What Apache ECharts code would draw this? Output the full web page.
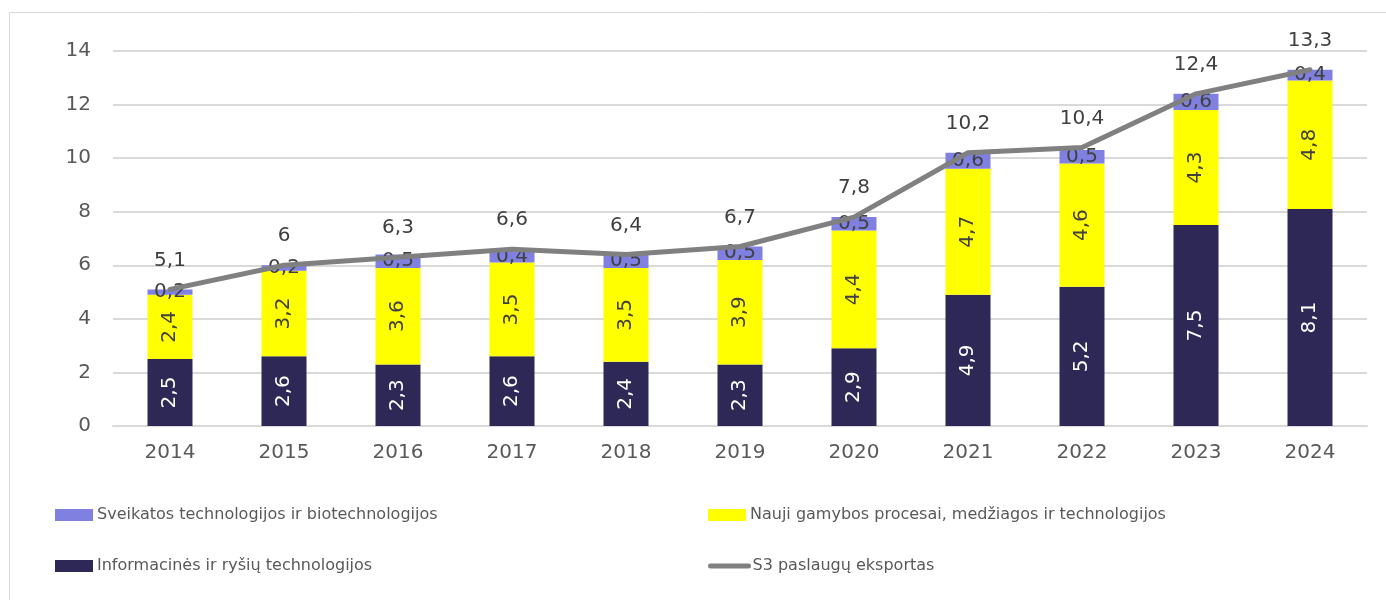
<!DOCTYPE html>
<html>
<head>
<meta charset="utf-8">
<script src="https://cdn.jsdelivr.net/npm/echarts@6/dist/echarts.min.js"></script>
<style>
  html, body { margin: 0; padding: 0; background: #fff; }
  #main { width: 1386px; height: 600px; }
</style>
</head>
<body>
<div id="main"></div>
<script>
const years = ['2014', '2015', '2016', '2017', '2018', '2019', '2020', '2021', '2022', '2023', '2024'];
const ictValues = [2.5, 2.6, 2.3, 2.6, 2.4, 2.3, 2.9, 4.9, 5.2, 7.5, 8.1];
const manufacturingValues = [2.4, 3.2, 3.6, 3.5, 3.5, 3.9, 4.4, 4.7, 4.6, 4.3, 4.8];
const healthValues = [0.2, 0.2, 0.5, 0.4, 0.5, 0.5, 0.5, 0.6, 0.5, 0.6, 0.4];
const exportValues = [5.1, 6, 6.3, 6.6, 6.4, 6.7, 7.8, 10.2, 10.4, 12.4, 13.3];

const NAME_HEALTH = 'Sveikatos technologijos ir biotechnologijos';
const NAME_MANUF = 'Nauji gamybos procesai, medžiagos ir technologijos';
const NAME_ICT = 'Informacinės ir ryšių technologijos';
const NAME_EXPORT = 'S3 paslaugų eksportas';

const FONT = 'DejaVu Sans';
const fmt = p => String(p.value).replace('.', ',');

function legendAt(name, left, top, extra) {
    return Object.assign({
        data: [name],
        left: left,
        top: top,
        padding: 0,
        icon: 'rect',
        itemWidth: 38,
        itemHeight: 12,
        selectedMode: false,
        textStyle: { fontFamily: FONT, fontSize: 16, color: '#595959', padding: [0, 0, 0, -1] }
    }, extra || {});
}

let myChart = echarts.init(document.getElementById('main'));
let option = {
    animation: false,
    backgroundColor: '#fff',
    textStyle: { fontFamily: FONT },
    graphic: [{
        type: 'rect',
        shape: { x: 9.5, y: 12.5, width: 1400, height: 620 },
        style: { fill: 'none', stroke: '#d9d9d9', lineWidth: 1 },
        silent: true
    }],
    grid: { left: 113, right: 19, top: 51, bottom: 174 },
    legend: [
        legendAt(NAME_HEALTH, 55, 507),
        legendAt(NAME_ICT, 55, 558),
        legendAt(NAME_MANUF, 708, 507),
        legendAt(NAME_EXPORT, 708, 558, {
            icon: null,
            itemStyle: { opacity: 0 },
            lineStyle: { width: 5, cap: 'round', color: '#808080' }
        })
    ],
    xAxis: {
        type: 'category',
        data: years,
        axisLine: { lineStyle: { color: '#d9d9d9', width: 2 } },
        axisTick: { show: false },
        axisLabel: { fontFamily: FONT, fontSize: 20, color: '#595959', margin: 17 }
    },
    yAxis: {
        type: 'value',
        min: 0,
        max: 14,
        interval: 2,
        axisLine: { show: false },
        axisTick: { show: false },
        splitLine: { lineStyle: { color: '#d9d9d9', width: 2 } },
        axisLabel: { fontFamily: FONT, fontSize: 20, color: '#595959', margin: 22 }
    },
    series: [
        {
            name: NAME_ICT,
            type: 'bar',
            stack: 'total',
            barWidth: 45,
            data: ictValues,
            itemStyle: { color: '#2e2857' },
            label: { show: true, position: 'inside', rotate: 90, formatter: fmt,
                     fontFamily: FONT, fontSize: 20, color: '#ffffff' }
        },
        {
            name: NAME_MANUF,
            type: 'bar',
            stack: 'total',
            barWidth: 45,
            data: manufacturingValues,
            itemStyle: { color: '#ffff00' },
            label: { show: true, position: 'inside', rotate: 90, formatter: fmt,
                     fontFamily: FONT, fontSize: 20, color: '#404040' }
        },
        {
            name: NAME_HEALTH,
            type: 'bar',
            stack: 'total',
            barWidth: 45,
            data: healthValues,
            itemStyle: { color: '#8080e0' },
            label: { show: true, position: 'inside', formatter: fmt,
                     fontFamily: FONT, fontSize: 20, color: '#404040' }
        },
        {
            name: NAME_EXPORT,
            type: 'line',
            data: exportValues,
            symbol: 'circle',
            symbolSize: 2,
            showSymbol: true,
            z: 5,
            lineStyle: { color: '#808080', width: 5, cap: 'round', join: 'round' },
            itemStyle: { color: '#808080' },
            label: { show: true, position: 'top', distance: 18, formatter: fmt,
                     fontFamily: FONT, fontSize: 20, color: '#404040' }
        }
    ]
};
myChart.setOption(option);
</script>
</body>
</html>
